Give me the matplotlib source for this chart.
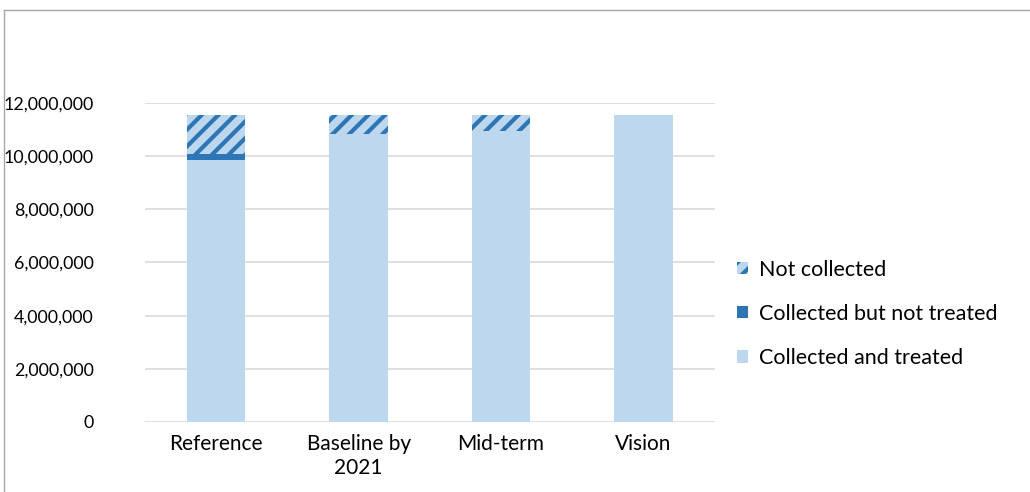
import numpy as np
import matplotlib.pyplot as plt
from matplotlib.lines import Line2D
from matplotlib.patches import Patch

plt.rcParams['font.family'] = ['Lato', 'DejaVu Sans']
plt.rcParams['hatch.linewidth'] = 3.0

categorias = ['Reference', 'Baseline by\n2021', 'Mid-term', 'Vision']
tratado = [9.86e6, 10.83e6, 10.95e6, 11.55e6]
nao_tratado = [0.22e6, 0.0, 0.0, 0.0]
nao_coletado = [1.47e6, 0.72e6, 0.60e6, 0.0]

cor_claro = '#BDD7EE'
cor_escuro = '#2E75B6'

fig = plt.figure(figsize=(10.3, 4.92), dpi=100)
ax = fig.add_axes([0.1408, 0.1423, 0.553, 0.6484])

x = np.arange(len(categorias))
largura = 0.41
base2 = np.array(tratado) + np.array(nao_tratado)

ax.bar(x, tratado, largura, color=cor_claro, zorder=3)
ax.bar(x, nao_tratado, largura, bottom=tratado, color=cor_escuro, zorder=3)
ax.bar(x, nao_coletado, largura, bottom=base2, color=cor_claro,
       edgecolor=cor_escuro, linewidth=0, hatch='//', zorder=3)

ax.set_xlim(-0.5, len(categorias) - 0.5)
ax.set_ylim(0, 12e6)
ax.set_yticks(np.arange(0, 12e6 + 1, 2e6))
ax.set_yticklabels([f'{int(v):,}' for v in np.arange(0, 12e6 + 1, 2e6)])
ax.set_xticks(x)
ax.set_xticklabels(categorias, linespacing=1.25)
ax.tick_params(axis='both', length=0, colors='#000000')
ax.tick_params(axis='y', pad=37, labelsize=12.8)
ax.tick_params(axis='x', pad=9, labelsize=15)
ax.grid(axis='y', color='#D9D9D9', linewidth=1.2, zorder=0)
for s in ax.spines.values():
    s.set_visible(False)

handles = [
    Patch(facecolor=cor_claro, edgecolor=cor_escuro, linewidth=0, hatch='//'),
    Patch(facecolor=cor_escuro),
    Patch(facecolor=cor_claro),
]
labels = ['Not collected', 'Collected but not treated', 'Collected and treated']
fig.legend(handles, labels, loc='center left', bbox_to_anchor=(0.697, 0.362),
           frameon=False, fontsize=15.5, handlelength=0.5, handleheight=0.5,
           handletextpad=0.5, labelspacing=1.12)

# borda da area do grafico
fig.add_artist(Line2D([4 / 1030, 1], [1 - 10 / 492, 1 - 10 / 492],
                      transform=fig.transFigure, color='#A6A6A6', linewidth=1))
fig.add_artist(Line2D([4 / 1030, 4 / 1030], [0, 1 - 10 / 492],
                      transform=fig.transFigure, color='#A6A6A6', linewidth=1))

fig.savefig('out.png', dpi=100)
